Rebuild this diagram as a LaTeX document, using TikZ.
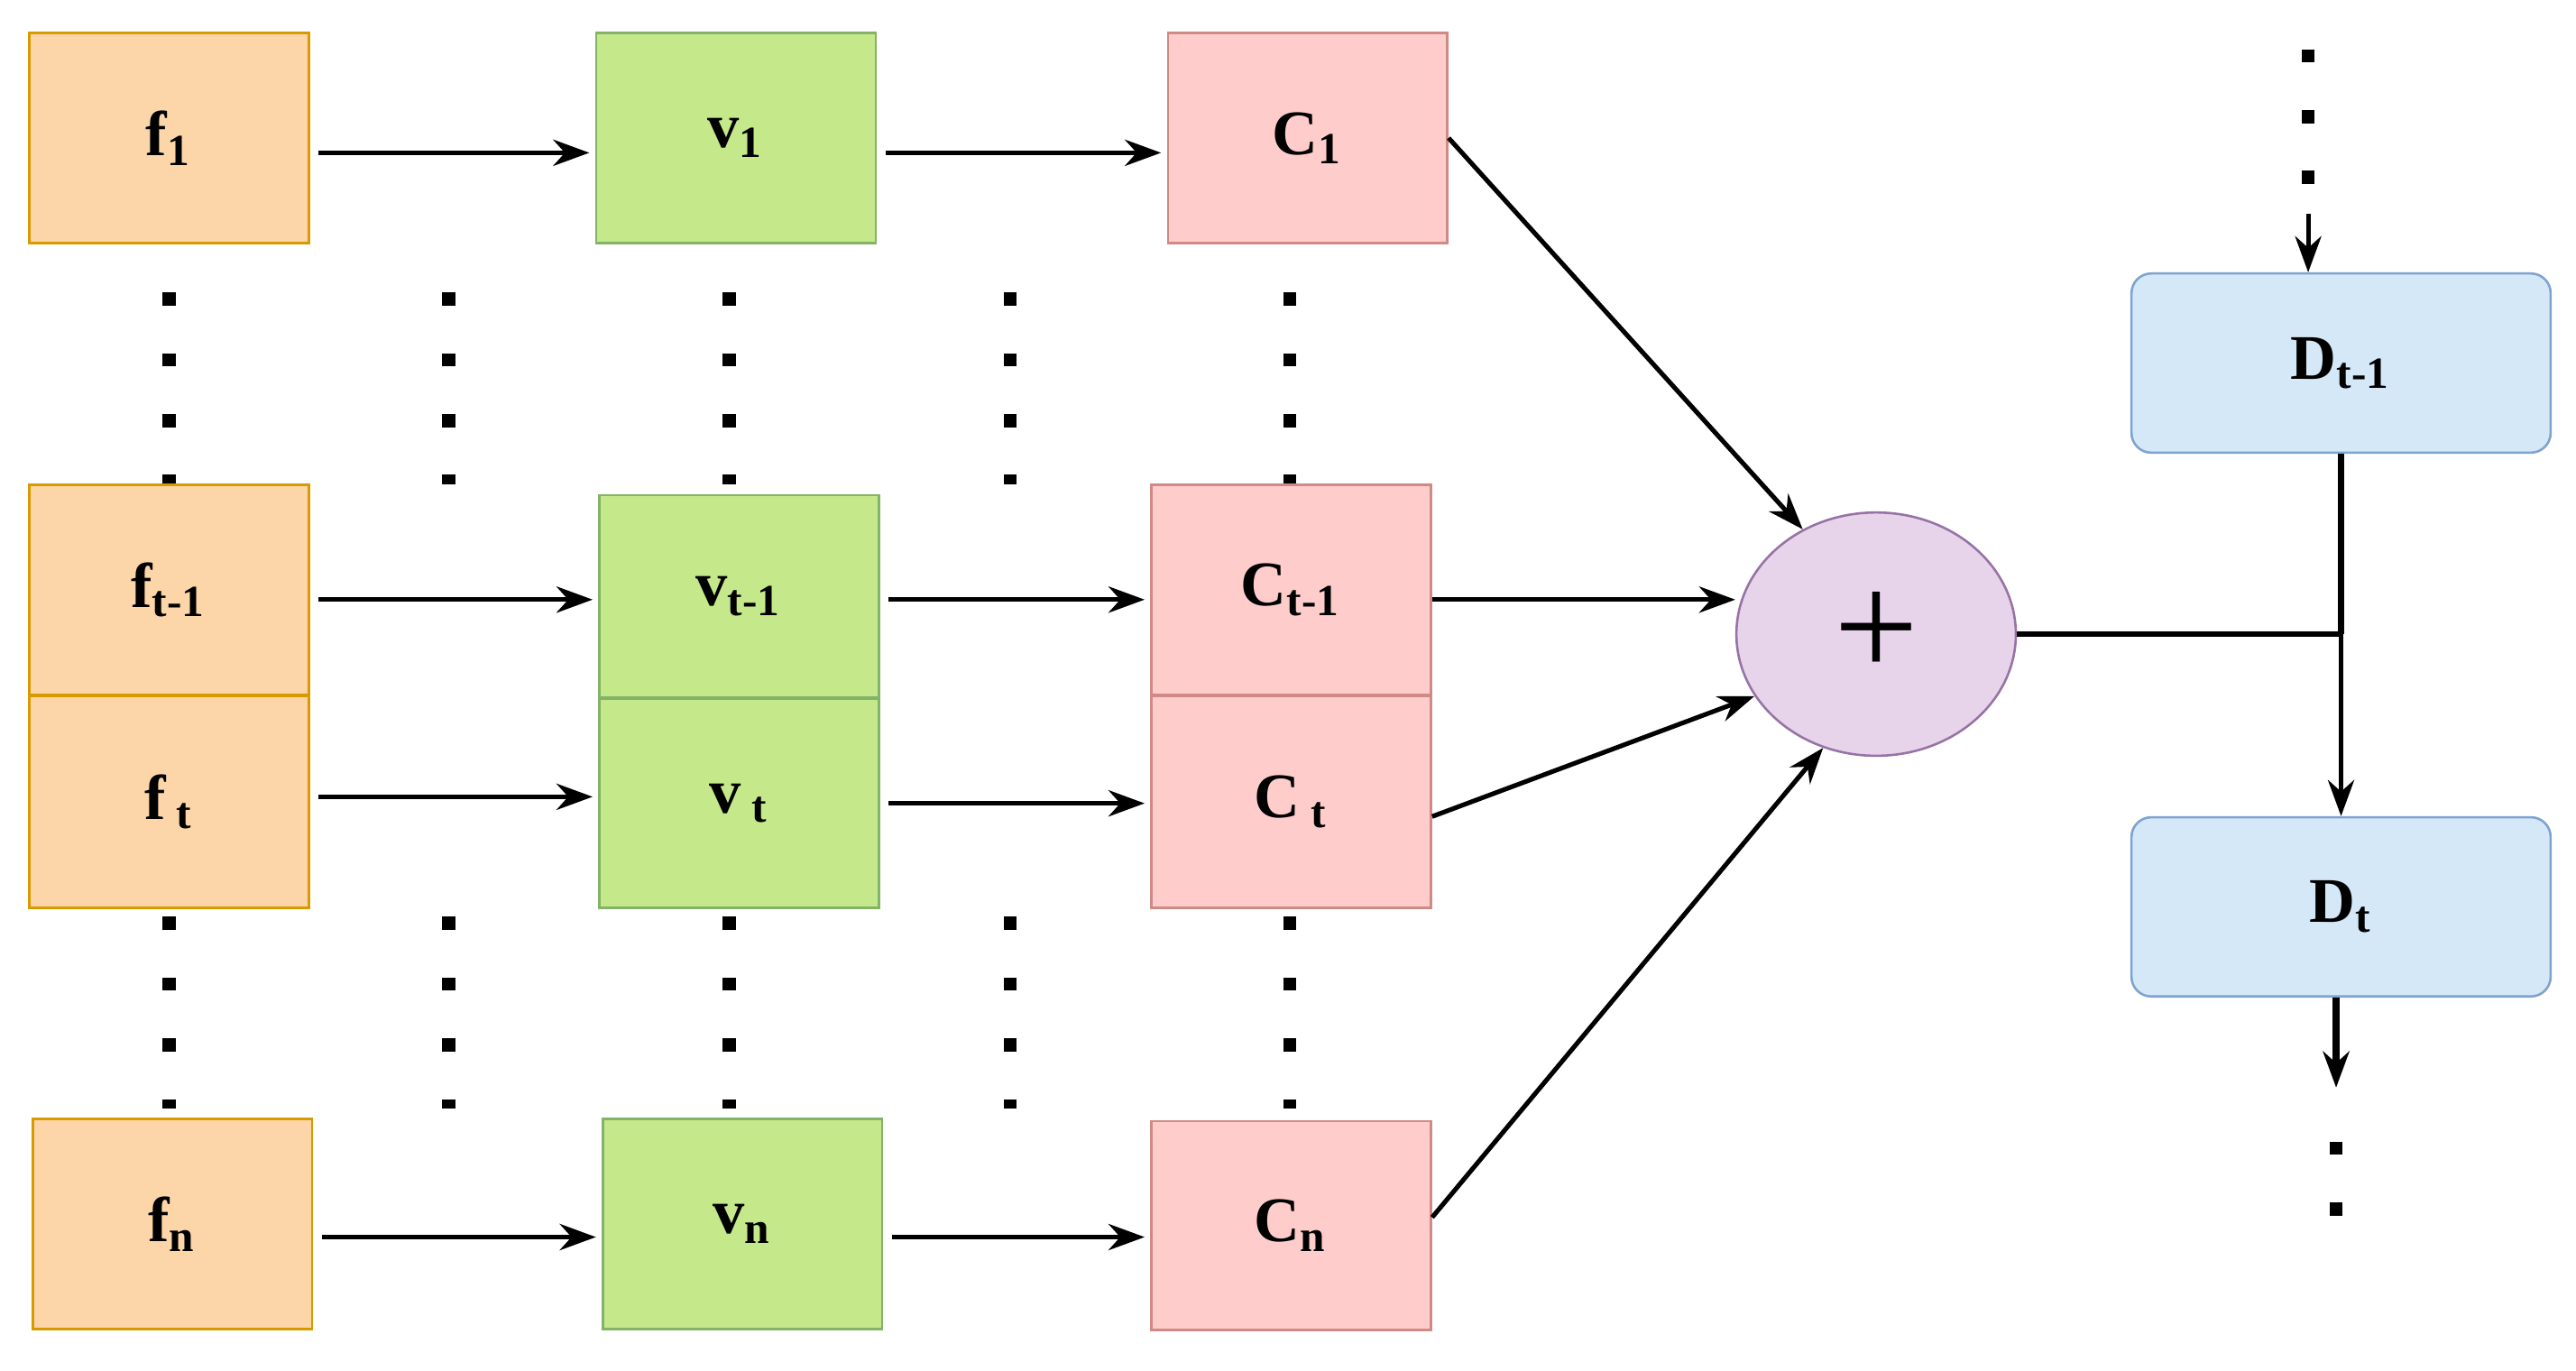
\documentclass[tikz,border=0pt]{standalone}
\usepackage{fontspec}
\setmainfont{Liberation Serif}
\usetikzlibrary{arrows.meta}
\usetikzlibrary{shapes.geometric}

\definecolor{fcol}{HTML}{FCD5A8}
\definecolor{fdraw}{HTML}{D79B00}
\definecolor{vcol}{HTML}{C5E88A}
\definecolor{vdraw}{HTML}{82B366}
\definecolor{ccol}{HTML}{FFCCCC}
\definecolor{cdraw}{HTML}{D08A86}
\definecolor{dcol}{HTML}{D5E8F8}
\definecolor{ddraw}{HTML}{7FA3CF}
\definecolor{scol}{HTML}{E8D4EA}
\definecolor{sdraw}{HTML}{9673A6}

\tikzset{
	box/.style={draw, minimum width=1.7cm, minimum height=1.28cm, inner sep=0pt, font=\fontsize{11}{13}\selectfont\bfseries},
	fbox/.style={box, fill=fcol, draw=fdraw},
	vbox/.style={box, fill=vcol, draw=vdraw},
	cbox/.style={box, fill=ccol, draw=cdraw},
	dbox/.style={box, fill=dcol, draw=ddraw, rounded corners=0.12cm, minimum width=2.55cm, minimum height=1.09cm},
	arr/.style={-{Stealth[length=0.22cm, width=0.16cm]}, line width=0.028cm},
	dots/.style={line width=0.08cm, dash pattern=on 0.08cm off 0.29cm},
}

\begin{document}
\begin{tikzpicture}[x=0.01cm, y=-0.01cm]
	\useasboundingbox (0,0) rectangle (1568,834);

	% dotted columns
	\foreach \cx in {103,273,444,615,785}{
		\draw[dots] (\cx,178) -- (\cx,295);
		\draw[dots] (\cx,558) -- (\cx,674.5);
	}

	% rows
	\node[fbox] (f1) at (103,84) {f\textsubscript{1}};
	\node[vbox] (v1) at (448,84) {v\textsubscript{1}};
	\node[cbox] (c1) at (796,84) {C\textsubscript{1}};

	\node[fbox] (ft1) at (103,359) {f\textsubscript{t-1}};
	\node[vbox, minimum height=1.23cm] (vt1) at (450,363) {v\textsubscript{t-1}};
	\node[cbox] (ct1) at (786,359) {C\textsubscript{t-1}};

	\node[fbox, minimum height=1.29cm] (ft) at (103,488) {f\,\textsubscript{t}};
	\node[vbox, minimum height=1.27cm] (vt) at (450,489) {v\,\textsubscript{t}};
	\node[cbox, minimum height=1.29cm] (ct) at (786,488) {C\,\textsubscript{t}};

	\node[fbox] (fn) at (105,745) {f\textsubscript{n}};
	\node[vbox] (vn) at (452,745) {v\textsubscript{n}};
	\node[cbox, minimum height=1.27cm] (cn) at (786,746) {C\textsubscript{n}};

	\node[ellipse, draw=sdraw, fill=scol, minimum width=1.7cm, minimum height=1.48cm, inner sep=0pt, font=\fontsize{26}{26}\selectfont] (sum) at (1142,386) {+};

	\node[dbox] (dt1) at (1425,221) {D\textsubscript{t-1}};
	\node[dbox] (dt) at (1425,552) {D\textsubscript{t}};

	% horizontal arrows
	\foreach \a/\b/\dy in {f1/v1/-0.09,v1/c1/-0.09,ft1/vt1/-0.06,vt1/ct1/-0.02,ft/vt/0.03,vt/ct/0,fn/vn/-0.08,vn/cn/-0.08}{
		\draw[arr] ([xshift=1.5pt, yshift=\dy cm]\a.east) -- ([xshift=-1pt, yshift=\dy cm]\b.west |- \a.east);
	}

	% into the sum
	\draw[arr] (c1.east) -- (sum.125);
	\draw[arr] ([yshift=-0.06cm]ct1.east) -- ([yshift=-0.06cm]sum.west |- ct1.east);
	\draw[arr] ([yshift=-0.09cm]ct.east) -- (sum.207);
	\draw[arr] ([yshift=0.05cm]cn.east) -- (sum.245);

	% decoder chain
	\coordinate (top) at (1405,30);
	\coordinate (mid) at (1405,130);
	\coordinate (join) at (1425,386);
	\coordinate (low) at (1422,662);
	\coordinate (end) at (1422,740);
	\draw[dots] (top) -- (mid);
	\draw[arr] (mid) -- (dt1.north -| mid);
	\draw[line width=0.035cm] (sum.east) -- (join);
	\draw[line width=0.035cm] (dt1.south) -- (join);
	\draw[arr] (join) -- (dt.north);
	\draw[arr, line width=0.04cm] (dt.south -| low) -- (low);
	\draw[dots] (1422,695) -- (end);

\end{tikzpicture}
\end{document}
